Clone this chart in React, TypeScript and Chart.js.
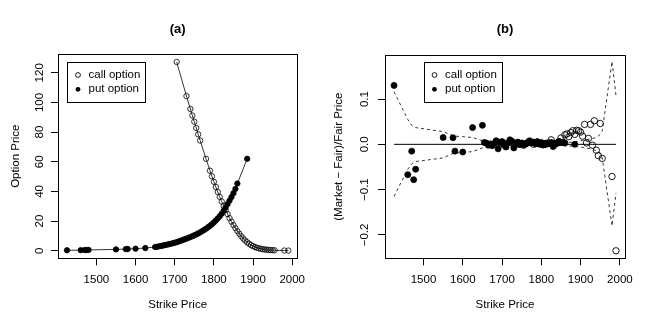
import React, { useEffect, useRef } from "react";
import { Chart, registerables } from "chart.js";

Chart.register(...registerables);

const FONT = "'Liberation Sans', Arial, Helvetica, sans-serif";

// ---------- Panel (a): option prices ----------
const callStrikes = [
  1705, 1730, 1740, 1745, 1750, 1755, 1760, 1765, 1780, 1790,
  1795, 1800, 1805, 1810, 1815, 1820, 1825, 1830, 1835, 1840,
  1845, 1850, 1855, 1860, 1865, 1870, 1875, 1880, 1885, 1890,
  1895, 1900, 1905, 1910, 1915, 1920, 1925, 1930, 1935, 1940,
  1945, 1950, 1955, 1980, 1990,
];
const callPrices = [
  127.3, 104.3, 95.6, 91.2, 87.0, 82.8, 78.5, 74.3, 62.0, 54.0,
  50.2, 46.5, 43.0, 39.6, 36.3, 33.2, 30.2, 27.4, 24.7, 22.0,
  19.6, 17.3, 15.2, 13.2, 11.4, 9.7, 8.2, 6.9, 5.7, 4.7,
  3.8, 3.1, 2.5, 2.0, 1.6, 1.3, 1.05, 0.85, 0.7, 0.55,
  0.45, 0.38, 0.3, 0.15, 0.1,
];
const putStrikes = [
  1425, 1460, 1470, 1475, 1480, 1550, 1575, 1580, 1600, 1625,
  1650, 1655, 1660, 1665, 1670, 1675, 1680, 1685, 1690, 1695,
  1700, 1705, 1710, 1715, 1720, 1725, 1730, 1735, 1740, 1745,
  1750, 1755, 1760, 1765, 1770, 1775, 1780, 1785, 1790, 1795,
  1800, 1805, 1810, 1815, 1820, 1825, 1830, 1835, 1840, 1845,
  1850, 1855, 1860, 1885,
];
const putPrices = [
  0.3, 0.4, 0.45, 0.5, 0.55, 0.9, 1.1, 1.15, 1.4, 1.8,
  2.5, 2.7, 2.95, 3.2, 3.5, 3.8, 4.1, 4.4, 4.7, 5.05,
  5.4, 5.8, 6.2, 6.7, 7.2, 7.7, 8.2, 8.7, 9.2, 9.8,
  10.4, 11.0, 11.7, 12.4, 13.2, 14.0, 14.9, 15.8, 16.8, 17.9,
  19.1, 20.4, 21.8, 23.3, 25.0, 27.0, 29.2, 31.5, 33.8, 36.2,
  38.8, 41.7, 45.3, 62.0,
];

// ---------- Panel (b): relative pricing error ----------
const callErrors = [
  0.002, -0.001, 0.001, 0.0, 0.002, -0.002, 0.001, 0.003, 0.0, 0.002,
  0.001, 0.0, -0.001, 0.002, 0.001, 0.003, 0.01, 0.002, 0.0, 0.003,
  0.006, 0.014, 0.004, 0.021, 0.023, 0.017, 0.026, 0.03, 0.022, 0.031,
  0.03, 0.027, 0.018, 0.044, 0.003, 0.013, 0.044, -0.002, 0.052, -0.013,
  -0.025, 0.046, -0.031, -0.071, -0.235,
];
const putErrors = [
  0.13, -0.067, -0.015, -0.078, -0.055, 0.015, 0.0145, -0.015, -0.017, 0.037,
  0.042, 0.004, 0.003, -0.002, 0.001, -0.003, 0.002, 0.008, -0.01, 0.004,
  0.006, -0.002, -0.006, 0.003, 0.01, 0.007, -0.008, 0.002, 0.005, 0.0,
  0.003, -0.001, 0.002, 0.004, 0.008, 0.003, 0.005, 0.001, 0.006, 0.002,
  0.004, -0.001, 0.0, 0.003, 0.002, 0.004, -0.005, 0.001, 0.003, 0.006,
  0.004, 0.005, 0.003, 0.0,
];
const bandStrikes = [
  1425, 1460, 1470, 1475, 1480, 1550, 1575, 1580, 1600, 1625,
  1650, 1660, 1700, 1750, 1800, 1850, 1880, 1900, 1925, 1940,
  1950, 1955, 1980, 1990,
];
const bandUpper = [
  0.116, 0.055, 0.042, 0.039, 0.037, 0.028, 0.019, 0.018, 0.017, 0.015,
  0.008, 0.003, 0.002, 0.002, 0.002, 0.003, 0.005, 0.008, 0.012, 0.015,
  0.022, 0.03, 0.183, 0.108,
];
const bandLower = [
  -0.115, -0.055, -0.043, -0.04, -0.038, -0.03, -0.02, -0.019, -0.018, -0.016,
  -0.008, -0.003, -0.002, -0.002, -0.002, -0.003, -0.004, -0.006, -0.01, -0.014,
  -0.02, -0.03, -0.18, -0.108,
];
const zeroStrikes = [1425, 1990];
const zeroValues = [0, 0];

// ---------- Ticks ----------
const xTicks = [1500, 1600, 1700, 1800, 1900, 2000];
const yTicksA = [0, 20, 40, 60, 80, 100, 120];
const yTicksB = [-0.2, -0.1, 0, 0.1];

const toPts = (xs: number[], ys: number[]) => xs.map((x, i) => ({ x, y: ys[i] }));

const framePlugin = {
  id: "frame",
  afterDraw(chart: any, _args: any, opts: any) {
    const { ctx, chartArea: a } = chart;
    ctx.save();
    ctx.strokeStyle = "#000";
    ctx.lineWidth = 1;
    const l = Math.round(a.left) + 0.5;
    const t = Math.round(a.top) + 0.5;
    const r = Math.round(a.right) + 0.5;
    const b = Math.round(a.bottom) + 0.5;
    ctx.strokeRect(l, t, r - l, b - t);
    const lg = opts && opts.legend;
    if (lg) {
      ctx.font = `${lg.fontSize}px ${FONT}`;
      const items = lg.items.map((i: number) => chart.data.datasets[i]);
      const tw = Math.max(...items.map((d: any) => ctx.measureText(d.label).width));
      const x0 = lg.x + 0.5;
      const y0 = lg.y + 0.5;
      const w = Math.round(lg.textOffset + tw + lg.padRight);
      ctx.fillStyle = "#fff";
      ctx.fillRect(x0, y0, w, lg.height);
      ctx.strokeRect(x0, y0, w, lg.height);
      items.forEach((d: any, i: number) => {
        const cy = lg.y + lg.firstRow + i * lg.rowGap;
        ctx.beginPath();
        ctx.arc(lg.x + lg.markerX, cy, lg.r, 0, Math.PI * 2);
        if (d.pointBackgroundColor === "#000") {
          ctx.fillStyle = "#000";
          ctx.fill();
        } else {
          ctx.lineWidth = 0.9;
          ctx.strokeStyle = "#000";
          ctx.stroke();
        }
        ctx.fillStyle = "#000";
        ctx.textBaseline = "middle";
        ctx.textAlign = "left";
        ctx.fillText(d.label, lg.x + lg.textOffset, cy);
      });
    }
    ctx.restore();
  },
};

function axisX() {
  return {
    type: "linear",
    min: 1402,
    max: 2013,
    afterBuildTicks: (s: any) => {
      s.ticks = xTicks.map((v) => ({ value: v }));
    },
    afterFit: (s: any) => {
      s.height = 68.7;
    },
    grid: { drawOnChartArea: false, drawTicks: true, tickLength: 7, color: "#000", lineWidth: 1 },
    border: { display: false },
    ticks: {
      font: { family: FONT, size: 11.5 },
      color: "#000",
      padding: 8,
      maxRotation: 0,
      autoSkip: false,
      callback: (v: any) => String(v),
    },
    title: {
      display: true,
      text: "Strike Price",
      font: { family: FONT, size: 11.5 },
      color: "#000",
      padding: { top: 0, bottom: 15 },
    },
  };
}

function axisY(min: number, max: number, ticks: number[], fmt: (v: number) => string, title: string, titlePad: number, labelPad: number) {
  return {
    type: "linear",
    min,
    max,
    afterBuildTicks: (s: any) => {
      s.ticks = ticks.map((v) => ({ value: v }));
    },
    afterFit: (s: any) => {
      s.width = 58;
    },
    grid: { drawOnChartArea: false, drawTicks: true, tickLength: 7, color: "#000", lineWidth: 1 },
    border: { display: false },
    ticks: {
      font: { family: FONT, size: 11.5 },
      color: "#000",
      padding: labelPad,
      minRotation: 90,
      maxRotation: 90,
      crossAlign: "center",
      autoSkip: false,
      callback: (v: any) => fmt(Number(v)),
    },
    title: {
      display: true,
      text: title,
      font: { family: FONT, size: 11.5 },
      color: "#000",
      padding: { top: titlePad, bottom: 0 },
    },
  };
}

function titleOpts(text: string, bottomPad: number) {
  return {
    display: true,
    text,
    fullSize: false,
    color: "#000",
    font: { family: FONT, size: 13, weight: "bold" },
    padding: { top: 21.5, bottom: bottomPad },
  };
}

export default function App() {
  const refA = useRef<HTMLCanvasElement | null>(null);
  const refB = useRef<HTMLCanvasElement | null>(null);

  useEffect(() => {
    const chartA = new Chart(refA.current as HTMLCanvasElement, {
      type: "scatter",
      data: {
        datasets: [
          {
            label: "put option",
            data: toPts(putStrikes, putPrices),
            showLine: true,
            borderColor: "#000",
            borderWidth: 0.8,
            pointRadius: 2.7,
            pointBorderWidth: 0.8,
            pointBackgroundColor: "#000",
            pointBorderColor: "#000",
          },
          {
            label: "call option",
            data: toPts(callStrikes, callPrices),
            showLine: true,
            borderColor: "#000",
            borderWidth: 0.8,
            pointRadius: 2.7,
            pointBorderWidth: 0.8,
            pointBackgroundColor: "rgba(0,0,0,0)",
            pointBorderColor: "#000",
          },
        ],
      },
      options: {
        animation: false,
        responsive: false,
        layout: { padding: { left: 0, right: 29.7, top: 0, bottom: 0 } },
        plugins: {
          legend: { display: false },
          tooltip: { enabled: false },
          title: titleOpts("(a)", 17),
          frame: {
            legend: { items: [1, 0], x: 67, y: 62, height: 40, firstRow: 13, rowGap: 14.3, markerX: 11, r: 2.4, textOffset: 21.5, padRight: 5, fontSize: 11.5 },
          },
        } as any,
        scales: {
          x: axisX() as any,
          y: axisY(-5.1, 132.6, yTicksA, (v) => String(v), "Option Price", 8.8, 2) as any,
        },
      },
      plugins: [framePlugin as any],
    });

    const chartB = new Chart(refB.current as HTMLCanvasElement, {
      type: "scatter",
      data: {
        datasets: [
          {
            label: "put option",
            data: toPts(putStrikes, putErrors),
            showLine: false,
            pointRadius: 3,
            pointBorderWidth: 0.8,
            pointBackgroundColor: "#000",
            pointBorderColor: "#000",
          },
          {
            label: "call option",
            data: toPts(callStrikes, callErrors),
            showLine: false,
            pointRadius: 3.2,
            pointBorderWidth: 0.9,
            pointBackgroundColor: "rgba(0,0,0,0)",
            pointBorderColor: "#000",
          },
          {
            label: "zero",
            data: toPts(zeroStrikes, zeroValues),
            showLine: true,
            borderColor: "#000",
            borderWidth: 1,
            pointRadius: 0,
          },
          {
            label: "upper bound",
            data: toPts(bandStrikes, bandUpper),
            showLine: true,
            borderColor: "#222",
            borderWidth: 0.9,
            borderDash: [3, 3],
            pointRadius: 0,
          },
          {
            label: "lower bound",
            data: toPts(bandStrikes, bandLower),
            showLine: true,
            borderColor: "#222",
            borderWidth: 0.9,
            borderDash: [3, 3],
            pointRadius: 0,
          },
        ],
      },
      options: {
        animation: false,
        responsive: false,
        layout: { padding: { left: 0, right: 29, top: 0, bottom: 0 } },
        plugins: {
          legend: { display: false },
          tooltip: { enabled: false },
          title: titleOpts("(b)", 18),
          frame: {
            legend: { items: [1, 0], x: 97, y: 62, height: 40, firstRow: 13, rowGap: 14.3, markerX: 10.5, r: 2.4, textOffset: 21, padRight: 5, fontSize: 11.5 },
          },
        } as any,
        scales: {
          x: axisX() as any,
          y: axisY(-0.2516, 0.197, yTicksB, (v) => v.toFixed(1).replace("-", "\u2212"), "(Market \u2212 Fair)/Fair Price", 5, 1.7) as any,
        },
      },
      plugins: [framePlugin as any],
    });

    return () => {
      chartA.destroy();
      chartB.destroy();
    };
  }, []);

  return (
    <div style={{ position: "fixed", left: 0, top: 0, width: 654, height: 327, display: "flex", background: "#fff" }}>
      <canvas ref={refA} width={327} height={327} style={{ width: 327, height: 327, display: "block" }} />
      <canvas ref={refB} width={327} height={327} style={{ width: 327, height: 327, display: "block" }} />
    </div>
  );
}
